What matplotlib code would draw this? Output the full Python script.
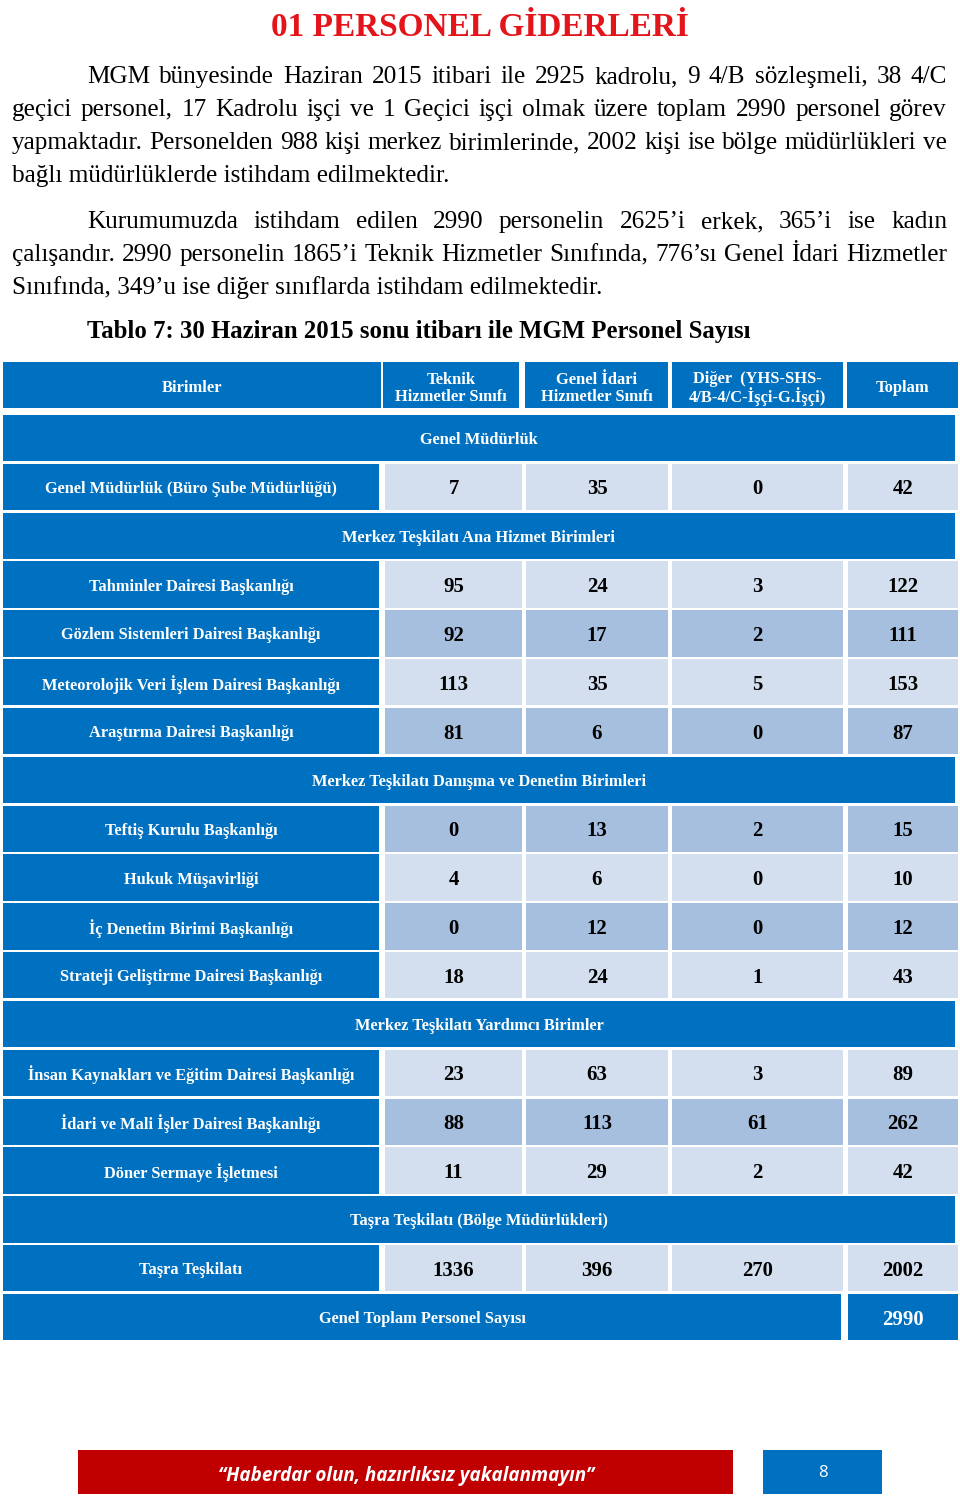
import matplotlib
matplotlib.use("Agg")
import matplotlib.pyplot as plt
from matplotlib.patches import Rectangle

# ---------------- data ----------------
title = "01 PERSONEL GİDERLERİ"
para1 = [
    "MGM bünyesinde Haziran 2015 itibari ile 2925 kadrolu, 9 4/B sözleşmeli, 38 4/C",
    "geçici personel, 17 Kadrolu işçi ve 1 Geçici işçi olmak üzere toplam 2990 personel görev",
    "yapmaktadır. Personelden 988 kişi merkez birimlerinde, 2002 kişi ise bölge müdürlükleri ve",
    "bağlı müdürlüklerde istihdam edilmektedir.",
]
para2 = [
    "Kurumumuzda istihdam edilen 2990 personelin 2625’i erkek, 365’i ise kadın",
    "çalışandır. 2990 personelin 1865’i Teknik Hizmetler Sınıfında, 776’sı Genel İdari Hizmetler",
    "Sınıfında, 349’u ise diğer sınıflarda istihdam edilmektedir.",
]
caption = "Tablo 7: 30 Haziran 2015 sonu itibarı ile MGM Personel Sayısı"

column_headers = ["Birimler", "Teknik\nHizmetler Sınıfı", "Genel İdari\nHizmetler Sınıfı",
                  "Diğer  (YHS-SHS-\n4/B-4/C-İşçi-G.İşçi)", "Toplam"]
section_names = ["Genel Müdürlük",
                 "Merkez Teşkilatı Ana Hizmet Birimleri",
                 "Merkez Teşkilatı Danışma ve Denetim Birimleri",
                 "Merkez Teşkilatı Yardımcı Birimler",
                 "Taşra Teşkilatı (Bölge Müdürlükleri)"]
units = ["Genel Müdürlük (Büro Şube Müdürlüğü)",
         "Tahminler Dairesi Başkanlığı",
         "Gözlem Sistemleri Dairesi Başkanlığı",
         "Meteorolojik Veri İşlem Dairesi Başkanlığı",
         "Araştırma Dairesi Başkanlığı",
         "Teftiş Kurulu Başkanlığı",
         "Hukuk Müşavirliği",
         "İç Denetim Birimi Başkanlığı",
         "Strateji Geliştirme Dairesi Başkanlığı",
         "İnsan Kaynakları ve Eğitim Dairesi Başkanlığı",
         "İdari ve Mali İşler Dairesi Başkanlığı",
         "Döner Sermaye İşletmesi",
         "Taşra Teşkilatı"]
unit_section = [0, 1, 1, 1, 1, 2, 2, 2, 2, 3, 3, 3, 4]
teknik = [7, 95, 92, 113, 81, 0, 4, 0, 18, 23, 88, 11, 1336]
genel_idari = [35, 24, 17, 35, 6, 13, 6, 12, 24, 63, 113, 29, 396]
diger = [0, 3, 2, 5, 0, 2, 0, 0, 1, 3, 61, 2, 270]
toplam = [42, 122, 111, 153, 87, 15, 10, 12, 43, 89, 262, 42, 2002]
grand_total_label = "Genel Toplam Personel Sayısı"
grand_total = 2990
footer_text = "“Haberdar olun, hazırlıksız yakalanmayın”"
page_number = "8"

# ---------------- style ----------------
BLUE = "#0070C0"
LIGHT = "#D3DFEE"
DARK = "#A7BFDE"
RED_TITLE = "#E4141B"
RED_BOX = "#C00000"
row_shade = [0, 0, 1, 0, 1, 1, 0, 1, 0, 0, 1, 0, 0]
SERIF = ["Liberation Serif", "DejaVu Serif"]

W, H = 960, 1499
fig = plt.figure(figsize=(W / 100, H / 100), dpi=100)
ax = fig.add_axes([0, 0, 1, 1])
ax.set_xlim(0, W)
ax.set_ylim(H, 0)
ax.axis("off")
renderer = fig.canvas.get_renderer()


def width_of(s, size, **kw):
    t = ax.text(0, 0, s, fontsize=size, **kw)
    w = t.get_window_extent(renderer).width
    t.remove()
    return w


def fit(s, target, **kw):
    return 10 * target / width_of(s, 10, **kw)


# ---------------- title & body ----------------
ts = fit(title, 416, family=SERIF, weight="bold")
ax.text(480, 36, title, fontsize=ts, family=SERIF, weight="bold", color=RED_TITLE,
        ha="center", va="baseline")

body_size = (fit(para1[3], 440, family=SERIF) + fit(para2[2], 591, family=SERIF)) / 2


def draw_line(s, x0, x1, y, justify):
    if not justify:
        ax.text(x0, y, s, fontsize=body_size, family=SERIF, color="black",
                ha="left", va="baseline")
        return
    words = s.split(" ")
    ws = [width_of(w, body_size, family=SERIF) for w in words]
    gap = (x1 - x0 - sum(ws)) / (len(words) - 1)
    x = x0
    for w, wd in zip(words, ws):
        ax.text(x, y, w, fontsize=body_size, family=SERIF, color="black",
                ha="left", va="baseline")
        x += wd + gap


LM, RM, IND = 12, 947, 87
base1 = [83, 116, 149, 182]
for i, line in enumerate(para1):
    draw_line(line, IND if i == 0 else LM, RM, base1[i], i < len(para1) - 1)
base2 = [228, 261, 294]
for i, line in enumerate(para2):
    draw_line(line, IND if i == 0 else LM, RM, base2[i], i < len(para2) - 1)

cs = fit(caption, 663, family=SERIF, weight="bold")
ax.text(87, 338, caption, fontsize=cs, family=SERIF, weight="bold", color="black",
        ha="left", va="baseline")

# ---------------- table ----------------
col_left = [3, 385, 526, 672, 848]
col_right = [379, 522, 668, 843, 958]
hdr_left = [3, 383, 525, 672, 847]
hdr_right = [381, 519, 668, 843, 958]
hdr_top = 362
body_top, pitch, rh = 415, 48.83, 46.3
band_right = 955

label_size = fit(units[0], 294, family=SERIF, weight="bold")
num_size = fit("1336", 41, family=SERIF, weight="bold")
hdr_size = fit("Hizmetler Sınıfı", 113, family=SERIF, weight="bold")


def rect(x0, x1, y0, color):
    ax.add_patch(Rectangle((x0, y0), x1 - x0, rh, facecolor=color, edgecolor="none"))


def ctext(x, y, s, size, color):
    ax.text(x, y, s, fontsize=size, family=SERIF, weight="bold", color=color,
            ha="center", va="center_baseline", linespacing=1.05)


# header row
for j, hdr in enumerate(column_headers):
    rect(hdr_left[j], hdr_right[j], hdr_top, BLUE)
    ctext((hdr_left[j] + hdr_right[j]) / 2, hdr_top + rh / 2 + 1, hdr, hdr_size, "white")

r = 0
prev_sec = None
for i, name in enumerate(units):
    sec = unit_section[i]
    if sec != prev_sec:
        y0 = body_top + r * pitch
        rect(col_left[0], band_right, y0, BLUE)
        ctext((col_left[0] + band_right) / 2, y0 + rh / 2, section_names[sec], label_size, "white")
        r += 1
        prev_sec = sec
    y0 = body_top + r * pitch
    rect(col_left[0], col_right[0], y0, BLUE)
    ctext((col_left[0] + col_right[0]) / 2, y0 + rh / 2, name, label_size, "white")
    vals = [teknik[i], genel_idari[i], diger[i], toplam[i]]
    fill = DARK if row_shade[i] else LIGHT
    for j, v in enumerate(vals, start=1):
        rect(col_left[j], col_right[j], y0, fill)
        ctext((col_left[j] + col_right[j]) / 2, y0 + rh / 2, str(v), num_size, "black")
    r += 1

# grand total row
y0 = body_top + r * pitch
rect(col_left[0], 841, y0, BLUE)
ctext((col_left[0] + 841) / 2, y0 + rh / 2, grand_total_label, label_size, "white")
rect(col_left[4], col_right[4], y0, BLUE)
ctext((col_left[4] + col_right[4]) / 2, y0 + rh / 2, str(grand_total), num_size, "white")

# ---------------- footer ----------------
ax.add_patch(Rectangle((78, 1450), 655, 44, facecolor=RED_BOX, edgecolor="none"))
fs = fit(footer_text, 377, family=["Open Sans", "DejaVu Sans"], weight="bold", style="italic")
ax.text(406, 1473, footer_text, fontsize=fs, family=["Open Sans", "DejaVu Sans"],
        weight="bold", style="italic", color="white", ha="center", va="center_baseline")
ax.add_patch(Rectangle((763, 1450), 119, 44, facecolor=BLUE, edgecolor="none"))
ax.text(823, 1471, page_number, fontsize=12, family=["Open Sans", "DejaVu Sans"],
        color="white", ha="center", va="center_baseline")

fig.savefig("out.png", dpi=100, facecolor="white")
